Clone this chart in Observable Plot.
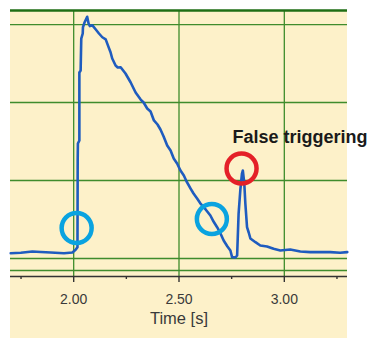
<!DOCTYPE html>
<html><head><meta charset="utf-8">
<script src="https://cdn.jsdelivr.net/npm/d3@7"></script>
<script src="https://cdn.jsdelivr.net/npm/@observablehq/plot@0.6"></script>
<style>body{margin:0;background:#fff}</style>
</head><body><div id="chart"></div>
<script>
const time = [1.701,1.749,1.804,1.844,1.891,1.954,1.994,2.009,2.018,2.019,2.020,2.027,2.027,2.033,2.036,2.043,2.044,2.052,2.064,2.071,2.077,2.089,2.104,2.120,2.136,2.152,2.163,2.175,2.183,2.199,2.209,2.223,2.246,2.270,2.294,2.318,2.332,2.349,2.365,2.381,2.398,2.412,2.427,2.444,2.460,2.475,2.491,2.507,2.523,2.536,2.555,2.569,2.586,2.602,2.618,2.634,2.649,2.664,2.681,2.697,2.712,2.730,2.744,2.752,2.768,2.776,2.783,2.791,2.799,2.803,2.810,2.815,2.823,2.831,2.839,2.863,2.886,2.918,2.949,2.981,3.028,3.076,3.123,3.171,3.218,3.265,3.299];
const signal = [0.068,0.073,0.090,0.083,0.077,0.068,0.077,0.112,0.145,1.256,1.474,1.513,2.385,2.41,2.82,2.885,2.965,3.03,3.10,3.01,2.98,2.99,2.94,2.885,2.837,2.81,2.73,2.645,2.564,2.474,2.45,2.453,2.372,2.26,2.128,2.038,2.0,1.923,1.885,1.77,1.718,1.654,1.564,1.449,1.385,1.282,1.218,1.128,1.064,0.987,0.897,0.833,0.769,0.705,0.658,0.603,0.551,0.474,0.401,0.321,0.231,0.154,0.103,0.017,0.013,0.038,0.577,0.872,1.09,1.128,0.962,0.705,0.401,0.333,0.256,0.209,0.167,0.154,0.124,0.103,0.115,0.090,0.081,0.081,0.081,0.073,0.081];

const xDomain = [1.70, 3.30];
const yDomain = [-0.231, 3.18];
const majorTicks = [2.0, 2.5, 3.0];
const minorTicks = [1.75, 2.25, 2.75, 3.25];
const yGrid = [0, 1, 2, 3, -0.154];
const xLabel = "Time [s]";

const markerX = [2.014, 2.656, 2.797];
const markerY = [0.39, 0.506, 1.154];
const markerColor = ["#0aa3e0", "#0aa3e0", "#e42028"];

const annotationText = ["False triggering"];
const annotationX = [2.7536];
const annotationY = [1.549];

const data = time.map((t, i) => ({t, v: signal[i]}));
const markers = markerX.map((x, i) => ({x, y: markerY[i], c: markerColor[i]}));
const notes = annotationText.map((s, i) => ({s, x: annotationX[i], y: annotationY[i]}));

const chart = Plot.plot({
  width: 370,
  height: 338,
  marginLeft: 10,
  marginRight: 23,
  marginTop: 10,
  marginBottom: 62,
  style: "background: linear-gradient(#fdf1c9,#fdf1c9) 10px 10px / 337px 328px no-repeat, #ffffff; overflow: visible; font-family: 'Liberation Sans', Arial, sans-serif;",
  x: {domain: xDomain, nice: false},
  y: {domain: yDomain, axis: null},
  marks: [
    Plot.ruleX(majorTicks, {stroke: "#3f8c2c", strokeWidth: 1.3}),
    Plot.ruleY(yGrid, {stroke: "#3f8c2c", strokeWidth: 1.3}),
    Plot.ruleY([yDomain[1]], {stroke: "#1f6e14", strokeWidth: 2.5}),
    Plot.ruleY([yDomain[0]], {stroke: "#333", strokeWidth: 1.6}),
    Plot.axisX(minorTicks, {tickSize: 3, tickFormat: () => "", stroke: "#333", strokeWidth: 1.4}),
    Plot.axisX(majorTicks, {tickSize: 6, tickPadding: 12, tickFormat: d3.format(".2f"), fontSize: 14, fill: "#3a3a3a", stroke: "#333", strokeWidth: 1.4, label: null}),
    Plot.text([xLabel], {frameAnchor: "bottom", dy: 47, fontSize: 16.5, fill: "#3a3a3a"}),
    Plot.line(data, {x: "t", y: "v", stroke: "#1f5cbf", strokeWidth: 2.6, strokeLinejoin: "round"}),
    Plot.dot(markers, {x: "x", y: "y", r: 15, stroke: "c", strokeWidth: 4.5, fill: "none"}),
    Plot.text(notes, {x: "x", y: "y", text: "s", textAnchor: "start", fontSize: 18, fontWeight: "bold", fill: "#1a1a1a"})
  ]
});
document.getElementById("chart").appendChild(chart);
</script>
</body></html>
